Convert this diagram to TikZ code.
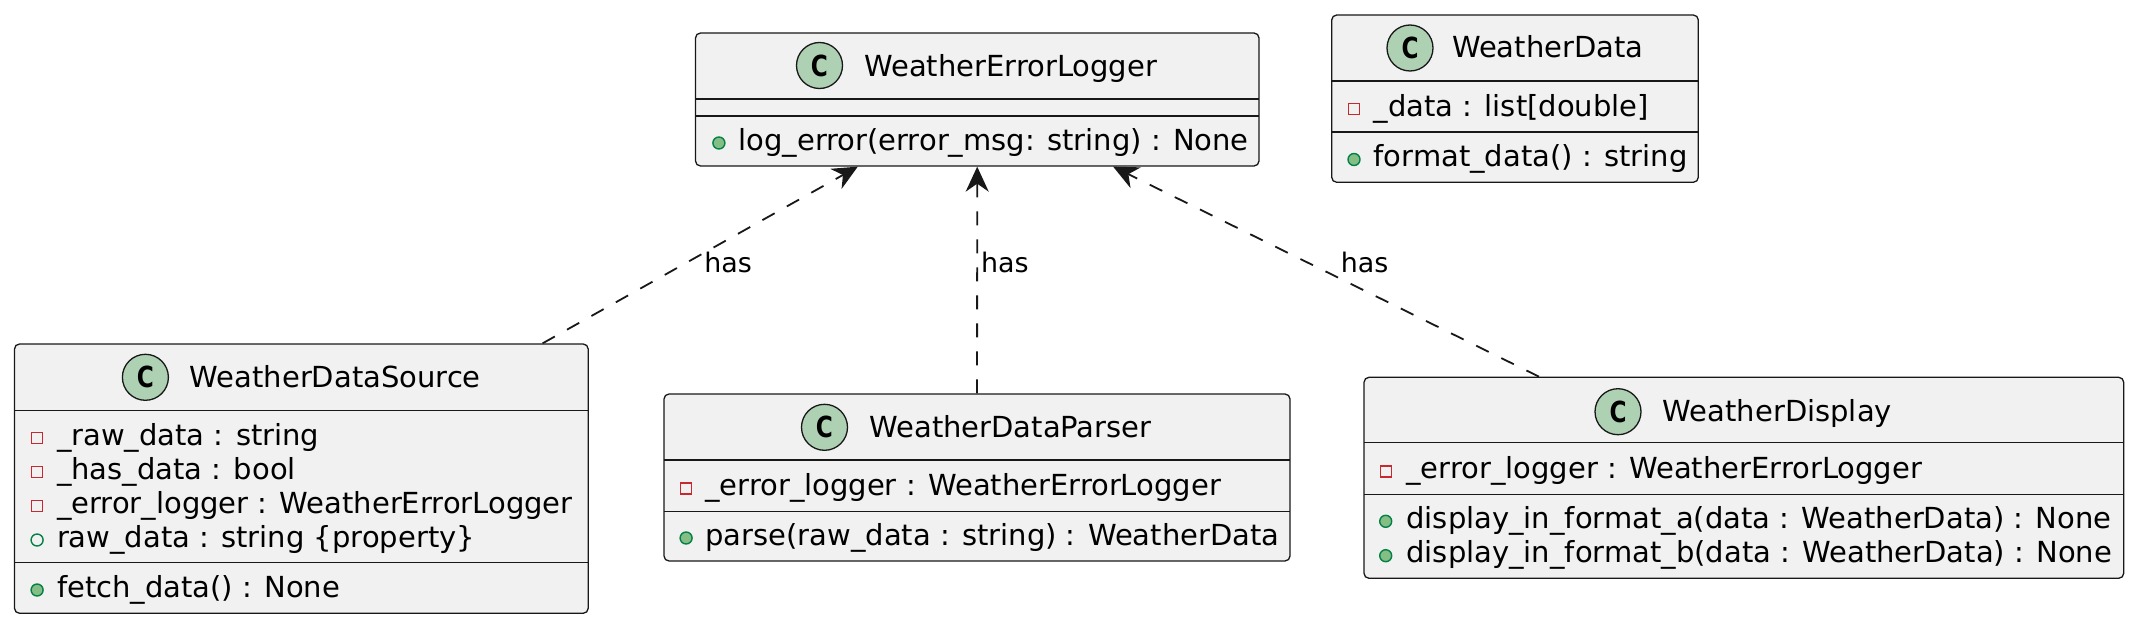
\documentclass[tikz,border=0pt]{standalone}
\usepackage{fontspec}
\setmainfont{DejaVu Sans}
\usetikzlibrary{arrows.meta,fit}
\definecolor{boxfill}{HTML}{F1F1F1}
\definecolor{boxline}{HTML}{181818}
\definecolor{cfill}{HTML}{ADD1B2}
\definecolor{privred}{HTML}{C82930}
\definecolor{pubgreen}{HTML}{038048}
\definecolor{pubfill}{HTML}{84BE84}
\begin{document}
\begin{tikzpicture}[x=0.5pt,y=-0.5pt,
  classbox/.style={draw=boxline, fill=boxfill, line width=0.65pt, rounded corners=2.5pt, inner sep=0pt},
  sepline/.style={draw=boxline, line width=0.6pt},
  cicon/.style={circle, draw=boxline, fill=cfill, line width=0.65pt, minimum size=23pt, inner sep=0pt, font=\fontsize{14.5}{14.5}\selectfont\bfseries},
  ttl/.style={anchor=base west, inner sep=0pt, font=\fontsize{14.5}{17}\selectfont},
  member/.style={anchor=base west, inner sep=0pt, font=\fontsize{14.5}{17}\selectfont},
  privicon/.style={rectangle, draw=privred, line width=0.7pt, minimum size=5.5pt, inner sep=0pt},
  pubmeth/.style={circle, draw=pubgreen, fill=pubfill, line width=0.7pt, minimum size=6pt, inner sep=0pt},
  pubattr/.style={circle, draw=pubgreen, line width=0.7pt, minimum size=6pt, inner sep=0pt},
  dep/.style={draw=boxline, line width=0.9pt, dash pattern=on 7pt off 7pt, -{Stealth[length=12.5pt,width=11.5pt,inset=4pt]}},
  lbl/.style={anchor=base west, inner sep=0pt, font=\fontsize{13.45}{16}\selectfont}
]
\useasboundingbox (0,0) rectangle (2135,626);
\newcommand{\cglyph}{\scalebox{0.8}[1]{C}}

% ---------- WeatherErrorLogger ----------
\node[classbox, fit={(695.5,33) (1259,166)}] (logger) {};
\draw[sepline] (695.5,99) -- (1259,99);
\draw[sepline] (695.5,116) -- (1259,116);
\node[cicon] (loggerC) at (819.5,65.5) {\cglyph};
\node[ttl] (loggerT) at (863.9,76) {WeatherErrorLogger};
\node[pubmeth] (loggerM1i) at (718.9,143) {};
\node[member] (loggerM1) at (738.1,150) {log\_error(error\_msg: string) : None};

% ---------- WeatherData ----------
\node[classbox, fit={(1331.7,15) (1698.3,182.3)}] (wdata) {};
\draw[sepline] (1331.7,81) -- (1698.3,81);
\draw[sepline] (1331.7,132) -- (1698.3,132);
\node[cicon] (wdataC) at (1410,48) {\cglyph};
\node[ttl] (wdataT) at (1451.7,57.5) {WeatherData};
\node[privicon] (wdataA1i) at (1354,109) {};
\node[member] (wdataA1) at (1373.3,116.5) {\_data : list[double]};
\node[pubmeth] (wdataM1i) at (1354,159.5) {};
\node[member] (wdataM1) at (1373.3,166.5) {format\_data() : string};

% ---------- WeatherDataSource ----------
\node[classbox, fit={(14.5,344) (588.2,613.3)}] (src) {};
\draw[sepline] (14.5,410.3) -- (588.2,410.3);
\draw[sepline] (14.5,562.3) -- (588.2,562.3);
\node[cicon] (srcC) at (145.4,377.3) {\cglyph};
\node[ttl] (srcT) at (189.4,387.3) {WeatherDataSource};
\node[privicon] (srcA1i) at (37.1,438) {};
\node[member] (srcA1) at (56.6,445) {\_raw\_data : string};
\node[privicon] (srcA2i) at (37.1,472) {};
\node[member] (srcA2) at (56.6,479) {\_has\_data : bool};
\node[privicon] (srcA3i) at (37.1,506) {};
\node[member] (srcA3) at (56.6,513) {\_error\_logger : WeatherErrorLogger};
\node[pubattr] (srcA4i) at (37.1,540) {};
\node[member] (srcA4) at (56.6,547) {raw\_data : string \{property\}};
\node[pubmeth] (srcM1i) at (37.1,590) {};
\node[member] (srcM1) at (56.6,597) {fetch\_data() : None};

% ---------- WeatherDataParser ----------
\node[classbox, fit={(664,394) (1290,561)}] (parser) {};
\draw[sepline] (664,460) -- (1290,460);
\draw[sepline] (664,511.7) -- (1290,511.7);
\node[cicon] (parserC) at (824.5,427.3) {\cglyph};
\node[ttl] (parserT) at (869,437.3) {WeatherDataParser};
\node[privicon] (parserA1i) at (686.1,488.5) {};
\node[member] (parserA1) at (704.9,495.5) {\_error\_logger : WeatherErrorLogger};
\node[pubmeth] (parserM1i) at (686.1,538) {};
\node[member] (parserM1) at (704.9,545) {parse(raw\_data : string) : WeatherData};

% ---------- WeatherDisplay ----------
\node[classbox, fit={(1364,377.3) (2123.7,578.3)}] (display) {};
\draw[sepline] (1364,442.7) -- (2123.7,442.7);
\draw[sepline] (1364,494.3) -- (2123.7,494.3);
\node[cicon] (displayC) at (1618,411.7) {\cglyph};
\node[ttl] (displayT) at (1662.5,421.7) {WeatherDisplay};
\node[privicon] (displayA1i) at (1385.7,471.3) {};
\node[member] (displayA1) at (1406,478.3) {\_error\_logger : WeatherErrorLogger};
\node[pubmeth] (displayM1i) at (1385.7,521.3) {};
\node[member] (displayM1) at (1406,528.3) {display\_in\_format\_a(data : WeatherData) : None};
\node[pubmeth] (displayM2i) at (1385.7,555.7) {};
\node[member] (displayM2) at (1406,562.7) {display\_in\_format\_b(data : WeatherData) : None};

% ---------- connectors ----------
\draw[dep] (src) -- (logger);
\draw[dep] (parser) -- (logger);
\draw[dep] (display) -- (logger);
\node[lbl] (has1) at (704,272) {has};
\node[lbl] (has2) at (980.7,272) {has};
\node[lbl] (has3) at (1340.5,272) {has};
\end{tikzpicture}
\end{document}
